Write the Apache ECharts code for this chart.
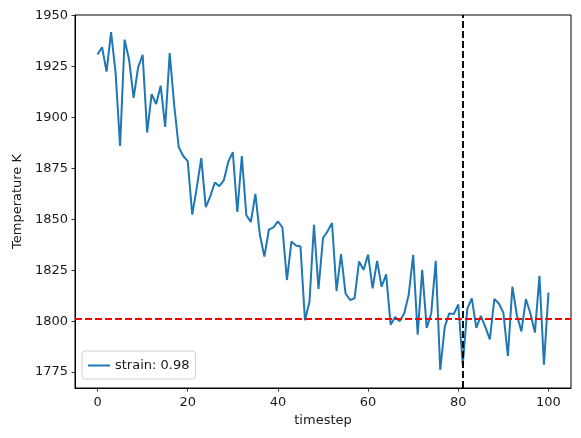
<!DOCTYPE html>
<html>
<head>
<meta charset="utf-8">
<script src="https://cdn.jsdelivr.net/npm/echarts@6/dist/echarts.min.js"></script>
<style>html,body{margin:0;padding:0;background:#fff;}#c{width:581px;height:438px;}</style>
</head>
<body>
<div id="c"></div>
<script>
const timesteps = Array.from({length: 101}, (_, i) => i);
const temperature = [
  1930.9, 1934.5, 1922.5, 1941.9, 1922.0, 1886.0, 1938.2, 1928.3, 1909.6, 1924.6,
  1930.8, 1892.6, 1911.5, 1906.6, 1915.6, 1895.4, 1931.6, 1906.0, 1885.5, 1881.1,
  1878.6, 1852.3, 1865.4, 1880.0, 1856.0, 1861.3, 1868.1, 1866.3, 1869.1, 1878.3,
  1883.0, 1853.6, 1881.1, 1852.0, 1848.7, 1862.5, 1842.4, 1831.7, 1844.9, 1846.0,
  1849.0, 1846.0, 1820.2, 1839.1, 1837.2, 1836.7, 1800.5, 1809.5, 1847.3, 1815.8,
  1840.8, 1844.1, 1848.2, 1814.8, 1832.9, 1813.6, 1810.4, 1811.2, 1829.3, 1825.2,
  1832.7, 1816.1, 1829.6, 1816.9, 1823.0, 1798.3, 1802.1, 1800.0, 1803.8, 1812.8,
  1832.6, 1793.4, 1825.2, 1796.7, 1803.8, 1829.6, 1776.1, 1797.2, 1803.8, 1803.5,
  1808.2, 1778.6, 1806.2, 1811.2, 1796.7, 1802.6, 1797.2, 1791.1, 1810.9, 1808.7,
  1804.2, 1782.9, 1816.9, 1802.9, 1795.0, 1810.9, 1803.8, 1794.4, 1822.3, 1778.6,
  1814.1
];
const xTicks = [0, 20, 40, 60, 80, 100];
const yTicks = [1775, 1800, 1825, 1850, 1875, 1900, 1925, 1950];
const seriesName = 'strain: 0.98';
const vLineX = 81;
const hLineY = 1801;

const chart = echarts.init(document.getElementById('c'), null, {renderer: 'canvas'});
const font = 'DejaVu Sans';
const textColor = '#1a1a1a';
chart.setOption({
  animation: false,
  backgroundColor: '#fff',
  grid: {left: 75, right: 10, top: 15, bottom: 50, show: true, borderColor: '#000', borderWidth: 1, backgroundColor: 'transparent'},
  xAxis: {
    type: 'value', min: -5, max: 105,
    name: 'timestep', nameLocation: 'middle', nameGap: 24,
    nameTextStyle: {fontFamily: font, fontSize: 13, color: textColor},
    axisLine: {show: true, onZero: false, lineStyle: {color: '#000', width: 1}},
    axisTick: {show: true, inside: false, length: 3.5, lineStyle: {color: '#000', width: 0.8}, customValues: xTicks},
    axisLabel: {fontFamily: font, fontSize: 13, color: textColor, margin: 8, customValues: xTicks, formatter: v => String(v)},
    splitLine: {show: false}
  },
  yAxis: {
    type: 'value', min: 1767.2, max: 1950.3,
    name: 'Temperature K', nameLocation: 'middle', nameGap: 51, nameRotate: 90,
    nameTextStyle: {fontFamily: font, fontSize: 13, color: textColor},
    axisLine: {show: true, onZero: false, lineStyle: {color: '#000', width: 1}},
    axisTick: {show: true, inside: false, length: 3.5, lineStyle: {color: '#000', width: 0.8}, customValues: yTicks},
    axisLabel: {fontFamily: font, fontSize: 13, color: textColor, margin: 7, customValues: yTicks, formatter: v => String(v)},
    splitLine: {show: false}
  },
  legend: {
    left: 82, top: 351,
    orient: 'vertical',
    data: [{name: seriesName, icon: 'rect'}],
    itemWidth: 22, itemHeight: 2, itemGap: 5,
    padding: [8, 6, 7, 6],
    borderColor: '#d0d0d0', borderWidth: 1, borderRadius: 3,
    backgroundColor: 'rgba(255,255,255,0.8)',
    textStyle: {fontFamily: font, fontSize: 13, color: textColor, padding: [0, 0, 0, 0]}
  },
  series: [{
    name: seriesName,
    type: 'line',
    data: timesteps.map((t, i) => [t, temperature[i]]),
    showSymbol: false,
    symbol: 'none',
    color: '#1f77b4',
    lineStyle: {width: 2, color: '#1f77b4'},
    z: 2,
    markLine: {
      silent: true,
      symbol: ['none', 'none'],
      label: {show: false},
      animation: false,
      data: [
        {xAxis: vLineX, lineStyle: {color: '#000', type: [7, 3], width: 1.9}},
        {yAxis: hLineY, lineStyle: {color: '#ff0000', type: [7, 3], width: 1.9}}
      ]
    }
  }]
});
</script>
</body>
</html>
